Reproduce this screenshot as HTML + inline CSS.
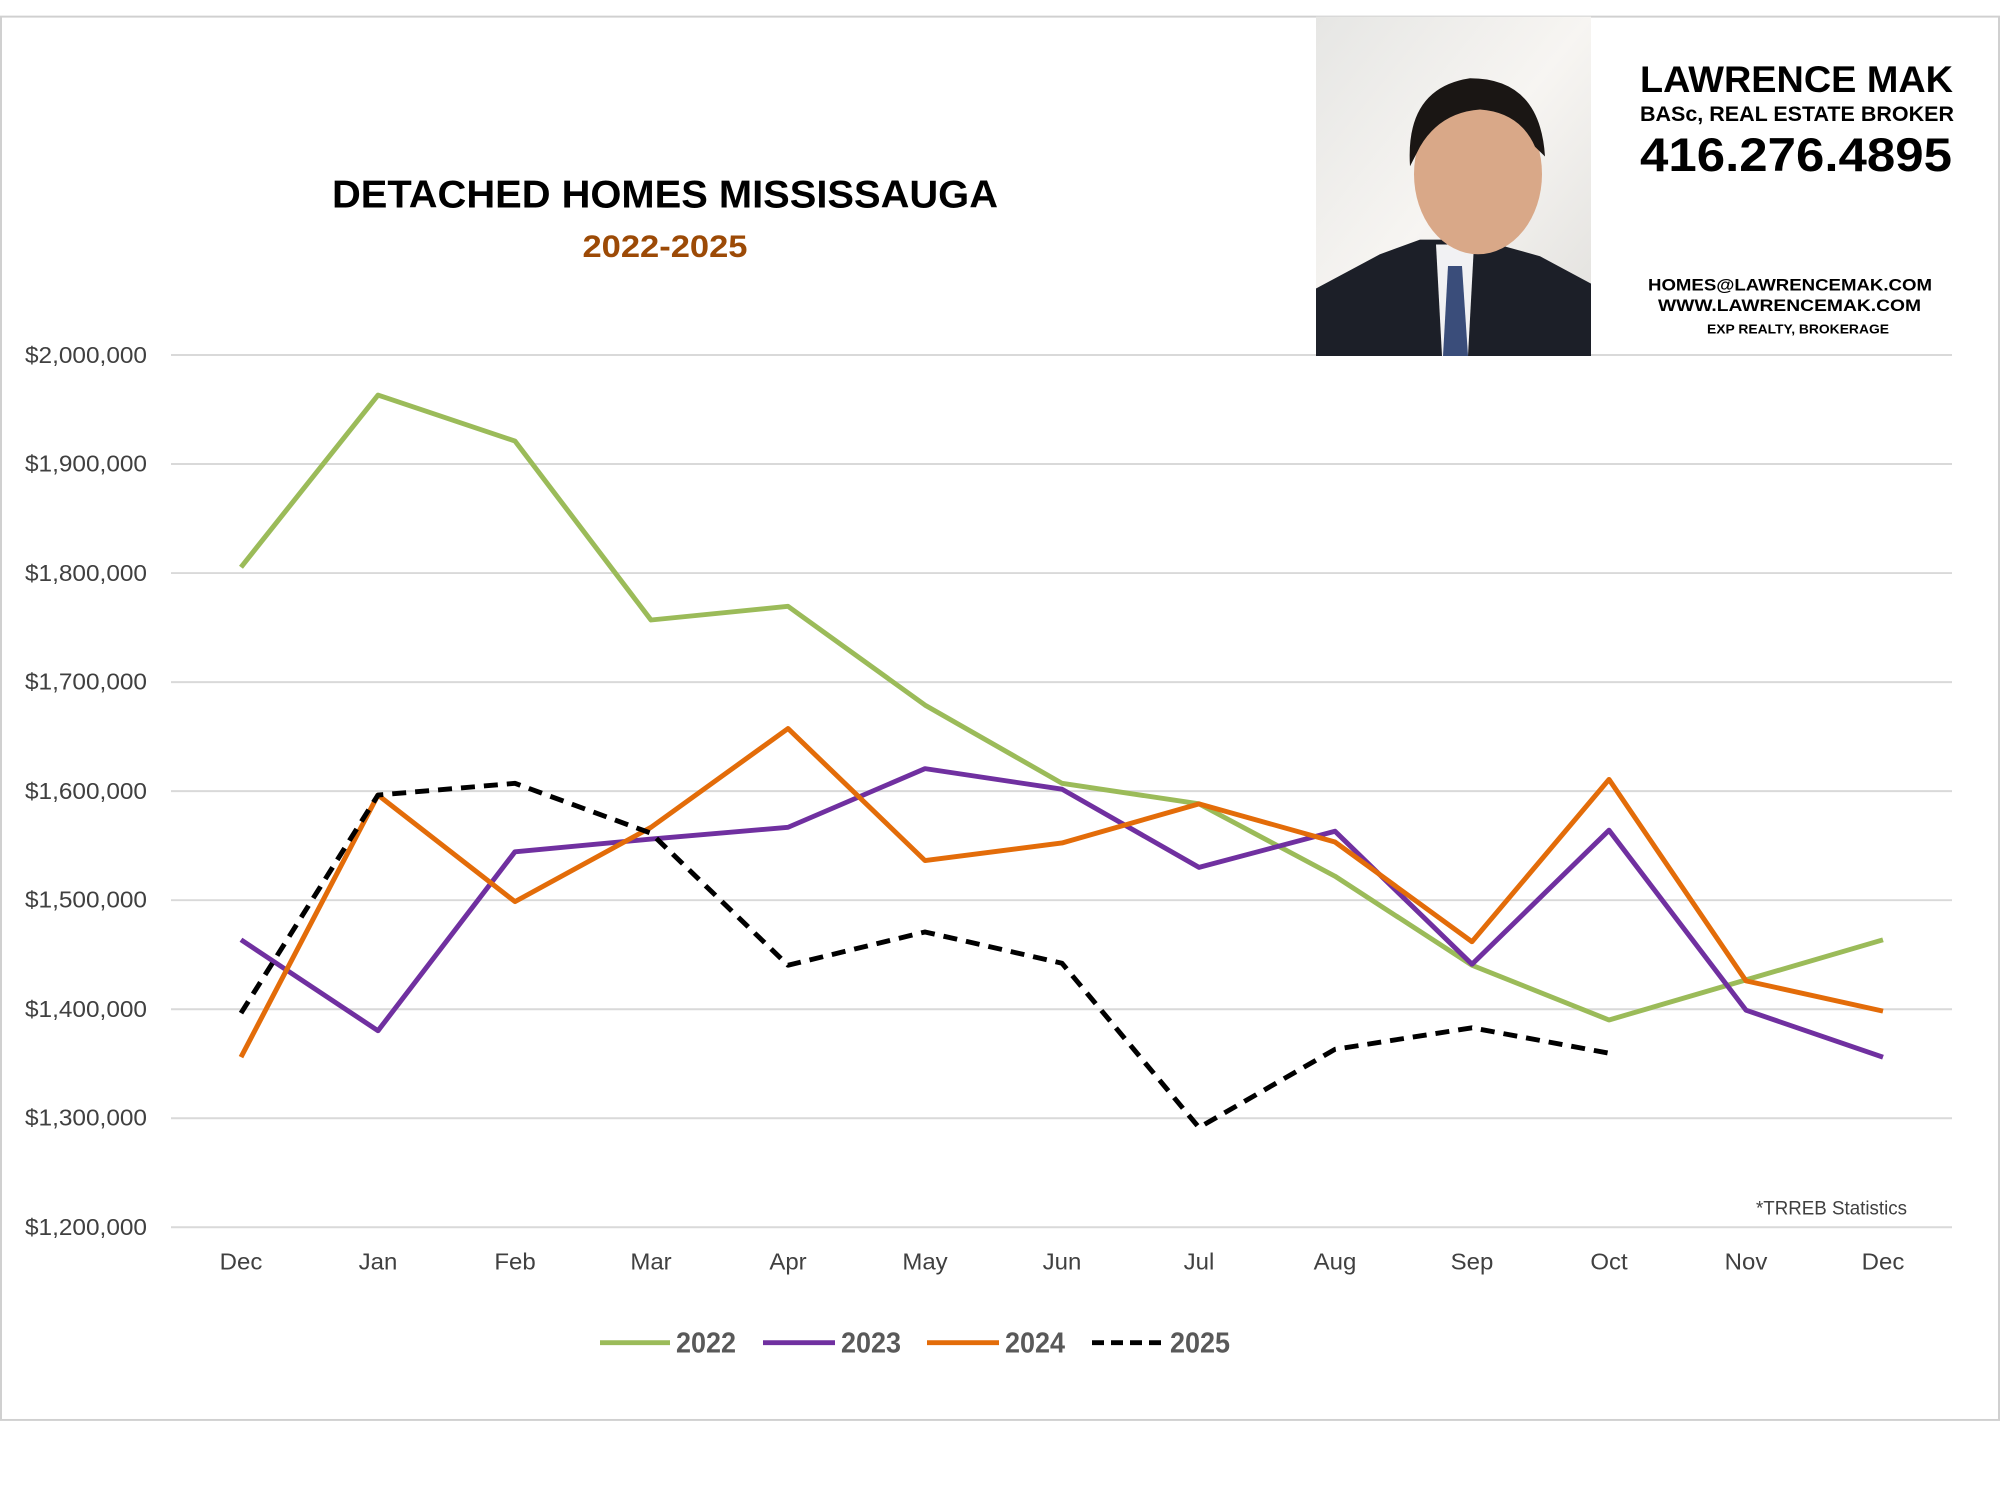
<!DOCTYPE html>
<html><head><meta charset="utf-8"><style>
html,body{margin:0;padding:0;background:#fff;}
svg{display:block;}
text{font-family:"Liberation Sans",sans-serif;}
</style></head><body>
<svg width="2000" height="1500" viewBox="0 0 2000 1500" xmlns="http://www.w3.org/2000/svg">
<g transform="scale(1,0.97792)">
<rect x="1" y="17" width="1998" height="1435" fill="#fff" stroke="#d0d0d0" stroke-width="2"/>
<g stroke="#d9d9d9" stroke-width="2">
<line x1="171" y1="363" x2="1952" y2="363"/>
<line x1="171" y1="474.5" x2="1952" y2="474.5"/>
<line x1="171" y1="586" x2="1952" y2="586"/>
<line x1="171" y1="697.5" x2="1952" y2="697.5"/>
<line x1="171" y1="809" x2="1952" y2="809"/>
<line x1="171" y1="920.5" x2="1952" y2="920.5"/>
<line x1="171" y1="1032" x2="1952" y2="1032"/>
<line x1="171" y1="1143.5" x2="1952" y2="1143.5"/>
<line x1="171" y1="1255" x2="1952" y2="1255"/>
</g>
<g fill="#404040" font-size="24" text-anchor="end">
<text x="147" y="371" textLength="122" lengthAdjust="spacingAndGlyphs">$2,000,000</text>
<text x="147" y="482" textLength="122" lengthAdjust="spacingAndGlyphs">$1,900,000</text>
<text x="147" y="594" textLength="122" lengthAdjust="spacingAndGlyphs">$1,800,000</text>
<text x="147" y="705" textLength="122" lengthAdjust="spacingAndGlyphs">$1,700,000</text>
<text x="147" y="817" textLength="122" lengthAdjust="spacingAndGlyphs">$1,600,000</text>
<text x="147" y="928" textLength="122" lengthAdjust="spacingAndGlyphs">$1,500,000</text>
<text x="147" y="1040" textLength="122" lengthAdjust="spacingAndGlyphs">$1,400,000</text>
<text x="147" y="1151" textLength="122" lengthAdjust="spacingAndGlyphs">$1,300,000</text>
<text x="147" y="1263" textLength="122" lengthAdjust="spacingAndGlyphs">$1,200,000</text>
</g>
<g fill="#404040" font-size="24" text-anchor="middle">
<text x="241" y="1298">Dec</text><text x="378" y="1298">Jan</text><text x="515" y="1298">Feb</text>
<text x="651" y="1298">Mar</text><text x="788" y="1298">Apr</text><text x="925" y="1298">May</text>
<text x="1062" y="1298">Jun</text><text x="1199" y="1298">Jul</text><text x="1335" y="1298">Aug</text>
<text x="1472" y="1298">Sep</text><text x="1609" y="1298">Oct</text><text x="1746" y="1298">Nov</text>
<text x="1883" y="1298">Dec</text>
</g>
<g fill="none" stroke-width="5" stroke-linejoin="round">
<polyline stroke="#9bbb59" points="241,580 378,404 515,451 651,634 788,620 925,721 1062,801 1199,822 1335,896 1472,987 1609,1043 1746,1002 1883,961"/>
<polyline stroke="#7030a0" points="241,961 378,1054 515,871 651,858 788,846 925,786 1062,807 1199,887 1335,850 1472,986 1609,849 1746,1033 1883,1081"/>
<polyline stroke="#e36c09" points="241,1081 378,813 515,922 651,846 788,745 925,880 1062,862 1199,822 1335,861 1472,963 1609,797 1746,1003 1883,1034"/>
<polyline stroke="#000" stroke-dasharray="14,9" points="241,1036 378,813 515,801 651,852 788,987 925,953 1062,985 1199,1153 1335,1073 1472,1051 1609,1077"/>
</g>
<text x="665" y="212" font-size="40" font-weight="bold" text-anchor="middle" fill="#000" textLength="666" lengthAdjust="spacingAndGlyphs">DETACHED HOMES MISSISSAUGA</text>
<text x="665" y="263" font-size="32" font-weight="bold" text-anchor="middle" fill="#9c4a06" textLength="165" lengthAdjust="spacingAndGlyphs">2022-2025</text>
<text x="1907" y="1242" font-size="20" text-anchor="end" fill="#404040" textLength="151" lengthAdjust="spacingAndGlyphs">*TRREB Statistics</text>
<g stroke-width="5">
<line x1="600" y1="1373" x2="670" y2="1373" stroke="#9bbb59"/>
<line x1="763" y1="1373" x2="835" y2="1373" stroke="#7030a0"/>
<line x1="927" y1="1373" x2="999" y2="1373" stroke="#e36c09"/>
<line x1="1092" y1="1373" x2="1161" y2="1373" stroke="#000" stroke-dasharray="12,7"/>
</g>
<g fill="#595959" font-size="29" font-weight="bold">
<text x="676" y="1383" textLength="60" lengthAdjust="spacingAndGlyphs">2022</text>
<text x="841" y="1383" textLength="60" lengthAdjust="spacingAndGlyphs">2023</text>
<text x="1005" y="1383" textLength="60" lengthAdjust="spacingAndGlyphs">2024</text>
<text x="1170" y="1383" textLength="60" lengthAdjust="spacingAndGlyphs">2025</text>
</g>
<defs>
<linearGradient id="bg" x1="0" y1="0" x2="1" y2="1"><stop offset="0" stop-color="#e6e6e4"/><stop offset="0.5" stop-color="#f7f5f2"/><stop offset="1" stop-color="#e0dfdc"/></linearGradient>
</defs>
<rect x="1316" y="17" width="275" height="347" fill="url(#bg)"/>
<path d="M1316,295 L1380,260 L1420,245 L1480,245 L1540,262 L1591,290 L1591,364 L1316,364 Z" fill="#1c1f28"/>
<path d="M1436,250 L1474,250 L1468,364 L1442,364 Z" fill="#f1f1f3"/>
<path d="M1448,272 L1462,272 L1468,364 L1443,364 Z" fill="#3a4d7a"/>
<ellipse cx="1478" cy="178" rx="64" ry="82" fill="#d9a888"/>
<path d="M1410,170 Q1405,90 1470,80 Q1540,80 1545,160 L1535,150 Q1520,115 1480,112 Q1440,115 1420,150 Z" fill="#1a1614"/>
<g fill="#000" font-weight="bold">
<text x="1640" y="94" font-size="38" textLength="313" lengthAdjust="spacingAndGlyphs">LAWRENCE MAK</text>
<text x="1640" y="124" font-size="22" textLength="314" lengthAdjust="spacingAndGlyphs">BASc, REAL ESTATE BROKER</text>
<text x="1640" y="175" font-size="48" textLength="312" lengthAdjust="spacingAndGlyphs">416.276.4895</text>
<text x="1648" y="297" font-size="17" textLength="284" lengthAdjust="spacingAndGlyphs">HOMES@LAWRENCEMAK.COM</text>
<text x="1658" y="318" font-size="17" textLength="263" lengthAdjust="spacingAndGlyphs">WWW.LAWRENCEMAK.COM</text>
<text x="1707" y="341" font-size="13" textLength="182" lengthAdjust="spacingAndGlyphs">EXP REALTY, BROKERAGE</text>
</g>
</g>
</svg>
</body></html>
